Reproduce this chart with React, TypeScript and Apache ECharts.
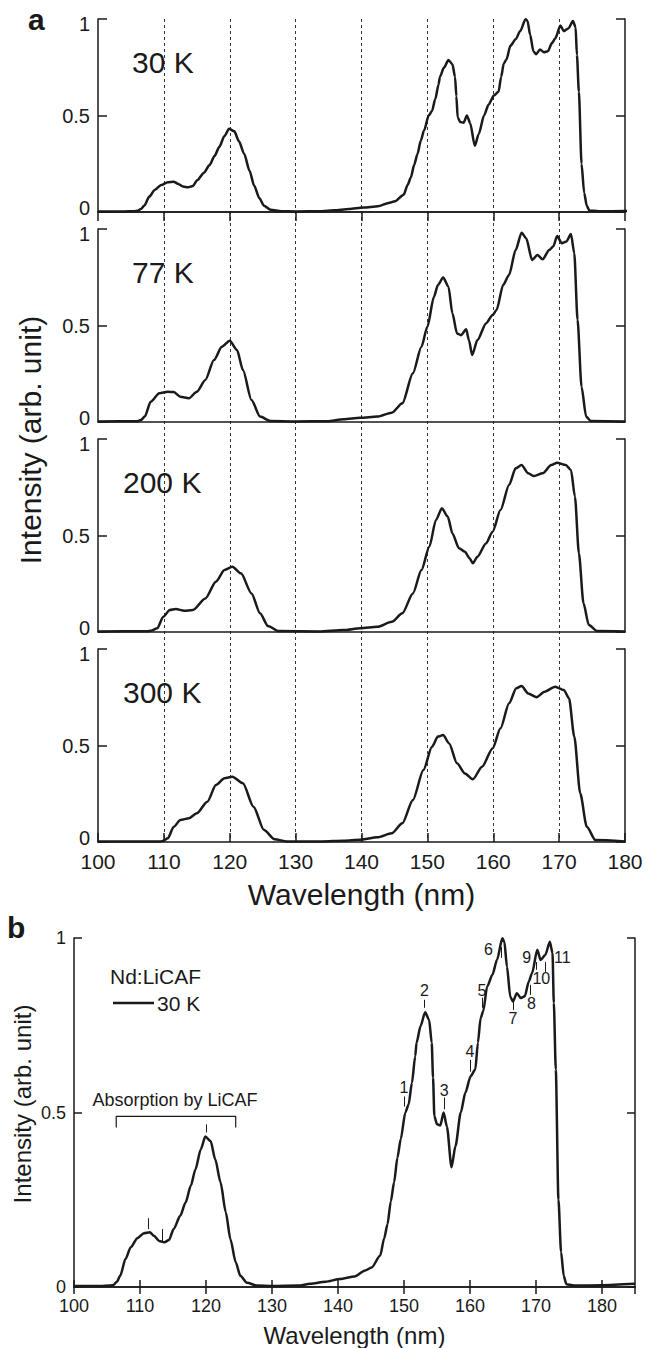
import React, { useEffect, useRef } from "react";
import * as echarts from "echarts";

// ---------- data ----------
const wl30 = [100, 104, 105.5, 106.0, 106.5, 107.0, 107.8, 108.6, 109.6, 110.6, 111.5, 112.1, 112.9, 113.7, 114.4, 115.1, 116.1, 116.9, 117.7, 118.4, 119.2, 119.9, 120.7, 121.4, 122.2, 123.0, 123.7, 124.5, 125.2, 126.2, 127.8, 130, 134, 135.8, 138.1, 140.3, 142.5, 144.1, 145.1, 146.4, 147.0, 147.5, 148.0, 148.5, 149.0, 149.5, 150.2, 150.7, 151.2, 151.7, 151.9, 152.5, 153.2, 153.8, 154.2, 154.4, 154.6, 155.0, 155.5, 156.0, 156.5, 157.2, 157.8, 158.6, 159.3, 160.1, 160.8, 161.2, 161.6, 162.0, 162.6, 163.4, 164.1, 164.9, 165.2, 165.6, 166.1, 166.5, 167.1, 167.7, 168.3, 168.9, 169.4, 170.2, 170.7, 171.4, 172.1, 172.5, 172.7, 173.0, 173.4, 173.8, 174.2, 174.6, 176, 180, 185];
const int30 = [0.003, 0.003, 0.004, 0.006, 0.015, 0.032, 0.08, 0.114, 0.14, 0.154, 0.157, 0.147, 0.132, 0.128, 0.135, 0.166, 0.204, 0.242, 0.29, 0.337, 0.394, 0.431, 0.418, 0.366, 0.3, 0.214, 0.137, 0.071, 0.032, 0.012, 0.004, 0.003, 0.004, 0.009, 0.015, 0.023, 0.03, 0.047, 0.056, 0.09, 0.14, 0.18, 0.245, 0.3, 0.37, 0.423, 0.5, 0.523, 0.585, 0.661, 0.7, 0.747, 0.787, 0.766, 0.7, 0.6, 0.49, 0.466, 0.463, 0.5, 0.46, 0.343, 0.404, 0.5, 0.557, 0.604, 0.623, 0.7, 0.77, 0.79, 0.861, 0.895, 0.938, 0.999, 0.99, 0.918, 0.832, 0.818, 0.842, 0.828, 0.833, 0.875, 0.899, 0.966, 0.937, 0.951, 0.989, 0.957, 0.814, 0.623, 0.25, 0.1, 0.032, 0.008, 0.004, 0.005, 0.009];

const wl77 = [100, 106.0, 106.5, 107.1, 108.0, 109.3, 110.6, 111.5, 112.5, 113.8, 115.0, 116.3, 117.6, 118.8, 120.0, 121.1, 122.0, 123.3, 124.6, 126.2, 130, 134.8, 137.3, 139.8, 142.4, 144.6, 146.2, 147.8, 149.1, 150.0, 151.0, 151.6, 152.4, 153.2, 153.8, 154.5, 155.1, 155.9, 156.3, 156.8, 157.6, 158.9, 159.9, 160.5, 161.5, 162.4, 163.4, 164.3, 165.0, 165.9, 166.7, 167.5, 168.5, 169.1, 169.7, 170.4, 171.1, 171.8, 172.3, 172.8, 173.4, 174.1, 174.8, 180];
const int77 = [0.003, 0.004, 0.01, 0.028, 0.105, 0.149, 0.157, 0.155, 0.131, 0.123, 0.157, 0.218, 0.321, 0.39, 0.421, 0.373, 0.269, 0.114, 0.028, 0.005, 0.003, 0.004, 0.014, 0.022, 0.028, 0.048, 0.097, 0.252, 0.39, 0.494, 0.649, 0.71, 0.749, 0.701, 0.563, 0.459, 0.45, 0.48, 0.425, 0.347, 0.425, 0.511, 0.554, 0.58, 0.71, 0.762, 0.891, 0.981, 0.952, 0.839, 0.865, 0.843, 0.891, 0.909, 0.964, 0.926, 0.935, 0.974, 0.874, 0.528, 0.183, 0.028, 0.005, 0.003];

const wl200 = [100, 107.5, 108.0, 109.0, 109.9, 110.9, 111.8, 113.1, 114.4, 116.3, 117.9, 119.2, 120.4, 121.7, 123.3, 124.6, 125.8, 127.4, 133.5, 137.3, 139.8, 142.4, 144.6, 146.2, 147.8, 149.1, 150.3, 151.3, 152.2, 153.1, 153.8, 154.8, 155.7, 156.4, 156.9, 157.6, 158.9, 159.9, 161.1, 162.4, 163.4, 164.3, 165.3, 166.2, 167.5, 168.8, 169.7, 171.0, 171.8, 172.4, 173.0, 173.7, 174.5, 175.8, 180];
const int200 = [0.003, 0.004, 0.006, 0.019, 0.079, 0.114, 0.119, 0.11, 0.114, 0.174, 0.261, 0.321, 0.338, 0.304, 0.2, 0.097, 0.031, 0.005, 0.003, 0.01, 0.019, 0.027, 0.053, 0.097, 0.2, 0.321, 0.442, 0.58, 0.641, 0.597, 0.511, 0.434, 0.416, 0.382, 0.356, 0.39, 0.459, 0.52, 0.632, 0.762, 0.848, 0.865, 0.822, 0.808, 0.822, 0.865, 0.877, 0.865, 0.839, 0.701, 0.408, 0.149, 0.036, 0.005, 0.003];

const wl300 = [100, 109.5, 109.9, 110.6, 111.5, 112.5, 113.8, 115.0, 116.6, 117.9, 119.2, 120.4, 122.0, 123.6, 125.2, 126.8, 128.7, 134, 137.3, 139.8, 142.4, 144.6, 146.2, 147.8, 149.4, 150.7, 151.6, 152.4, 153.3, 154.5, 155.7, 156.9, 158.3, 159.9, 161.1, 162.4, 163.5, 164.3, 165.3, 166.6, 167.8, 169.4, 170.7, 171.5, 172.3, 173.2, 174.2, 175.5, 180];
const int300 = [0.003, 0.003, 0.006, 0.019, 0.079, 0.114, 0.123, 0.149, 0.209, 0.295, 0.33, 0.338, 0.304, 0.183, 0.062, 0.014, 0.003, 0.003, 0.007, 0.012, 0.024, 0.045, 0.097, 0.218, 0.373, 0.494, 0.546, 0.554, 0.511, 0.408, 0.355, 0.325, 0.39, 0.485, 0.589, 0.719, 0.797, 0.808, 0.77, 0.75, 0.779, 0.805, 0.788, 0.745, 0.546, 0.252, 0.079, 0.01, 0.003];

const tempLabels = ["30 K", "77 K", "200 K", "300 K"];

// Panel b annotations
const peakNames = ["1", "2", "3", "4", "5", "6", "7", "8", "9", "10", "11"];
const peakTickX = [150.0, 153.1, 156.1, 160.0, 161.8, 164.7, 166.5, 169.2, 170.1, 171.4, null];
const peakTickY0 = [0.517, 0.8, 0.509, 0.617, 0.8, 0.943, 0.794, 0.837, 0.909, 0.903, null];
const peakTickY1 = [0.546, 0.823, 0.543, 0.651, 0.829, 0.974, 0.817, 0.866, 0.931, 0.931, null];
const peakLabelX = [150.0, 153.1, 156.1, 160.0, 161.8, 162.8, 166.5, 169.3, 168.6, 170.8, 174.0];
const peakLabelY = [0.571, 0.849, 0.563, 0.674, 0.849, 0.966, 0.769, 0.811, 0.943, 0.883, 0.943];

const absTickX = [111.3, 113.4, 120.0];
const absTickY0 = [0.166, 0.131, 0.443];
const absTickY1 = [0.197, 0.166, 0.466];
const bracketX = [106.4, 106.4, 124.5, 124.5];
const bracketY = [0.457, 0.489, 0.489, 0.457];

const zip = (a: number[], b: number[]) => a.map((v, i) => [v, b[i]]);

const FONT = "'Liberation Sans', Arial, Helvetica, sans-serif";
const INK = "#1a1a1a";

export default function App() {
  const ref = useRef<HTMLDivElement>(null);
  useEffect(() => {
    document.body.style.margin = "0";
    const chart = echarts.init(ref.current!, null, { renderer: "svg" });

    const panelTops = [19, 229, 439, 649];
    const pH = 193;
    const L = 98;
    const W = 527;

    const grids: any[] = panelTops.map((t) => ({ left: L, top: t, width: W, height: pH }));
    grids.push({ left: L, top: 19, width: W, height: 842 - 19 }); // overlay for dashed lines
    grids.push({ left: 74, top: 938, width: 561, height: 350 }); // panel b

    const axLine = { show: true, lineStyle: { color: INK, width: 1.5 } };
    const tickIn = (len: number) => ({ show: true, inside: true, length: len, lineStyle: { color: INK, width: 1.5 } });

    const xAxes: any[] = [];
    for (let i = 0; i < 4; i++) {
      xAxes.push({
        type: "value", gridIndex: i, min: 100, max: 180, interval: 10, position: "bottom",
        axisLine: axLine,
        axisTick: i === 3 ? tickIn(9) : { show: false },
        axisLabel: i === 3 ? { show: true, fontSize: 21, color: INK, fontFamily: FONT, margin: 9 } : { show: false },
        splitLine: { show: false },
        name: i === 3 ? "Wavelength (nm)" : "",
        nameLocation: "middle", nameGap: 37,
        nameTextStyle: { fontSize: 30, color: INK, fontFamily: FONT },
      });
    }
    xAxes.push({
      type: "value", gridIndex: 0, min: 100, max: 180, interval: 10, position: "top",
      axisLine: axLine, axisTick: tickIn(9), axisLabel: { show: false }, splitLine: { show: false },
    });
    xAxes.push({
      type: "value", gridIndex: 4, min: 100, max: 180, interval: 10,
      axisLine: { show: false }, axisTick: { show: false }, axisLabel: { show: false },
      splitLine: { show: true, showMinLine: false, showMaxLine: false, lineStyle: { color: "#333", width: 1, type: [3, 3] } },
    });
    xAxes.push({
      type: "value", gridIndex: 5, min: 100, max: 185, interval: 10, position: "bottom",
      axisLine: axLine, axisTick: tickIn(7),
      axisLabel: { show: true, fontSize: 18, color: INK, fontFamily: FONT, margin: 10, showMaxLabel: false,
        formatter: (v: number) => (v === 185 ? "" : String(v)) },
      splitLine: { show: false },
      name: "Wavelength (nm)", nameLocation: "middle", nameGap: 36,
      nameTextStyle: { fontSize: 24, color: INK, fontFamily: FONT },
    });
    xAxes.push({
      type: "value", gridIndex: 5, min: 100, max: 185, interval: 10, position: "top",
      axisLine: axLine, axisTick: tickIn(7), axisLabel: { show: false }, splitLine: { show: false },
    });

    const yAxes: any[] = [];
    for (let i = 0; i < 4; i++) {
      yAxes.push({
        type: "value", gridIndex: i, min: 0, max: 1, interval: 0.5, position: "left",
        axisLine: axLine, axisTick: tickIn(9),
        axisLabel: {
          show: true, fontSize: 20, color: INK, fontFamily: FONT, margin: 8,
          formatter: (v: number) => (v === 0 ? `{lo|0}` : v === 1 ? `{hi|1}` : `{mid|${v}}`),
          rich: {
            lo: { fontSize: 20, color: INK, fontFamily: FONT, padding: [0, 0, 9, 0] },
            hi: { fontSize: 20, color: INK, fontFamily: FONT, padding: [9, 0, 0, 0] },
            mid: { fontSize: 20, color: INK, fontFamily: FONT },
          },
        },
        splitLine: { show: false },
      });
    }
    for (let i = 0; i < 4; i++) {
      yAxes.push({
        type: "value", gridIndex: i, min: 0, max: 1, interval: 0.5, position: "right",
        axisLine: axLine, axisTick: tickIn(9), axisLabel: { show: false }, splitLine: { show: false },
      });
    }
    yAxes.push({ type: "value", gridIndex: 4, min: 0, max: 1, show: false });
    yAxes.push({
      type: "value", gridIndex: 5, min: 0, max: 1, interval: 0.5, position: "left",
      axisLine: axLine, axisTick: tickIn(8),
      axisLabel: { show: true, fontSize: 18, color: INK, fontFamily: FONT, margin: 8 },
      splitLine: { show: false },
    });
    yAxes.push({
      type: "value", gridIndex: 5, min: 0, max: 1, interval: 0.5, position: "right",
      axisLine: axLine, axisTick: tickIn(8), axisLabel: { show: false }, splitLine: { show: false },
    });

    const specs = [zip(wl30, int30), zip(wl77, int77), zip(wl200, int200), zip(wl300, int300)];
    const lineStyle = { color: INK, width: 2.5 };
    const series: any[] = specs.map((d, i) => ({
      type: "line", xAxisIndex: i, yAxisIndex: i, data: d, showSymbol: false, symbol: "none",
      smooth: 0.25, smoothMonotone: "x", lineStyle, silent: true, z: 3,
    }));

    const peakTickLines = peakTickX
      .map((x, i) => (x == null ? null : [{ coord: [x, peakTickY0[i]] }, { coord: [x, peakTickY1[i]] }]))
      .filter((v) => v);
    const absTickLines = absTickX.map((x, i) => [{ coord: [x, absTickY0[i]] }, { coord: [x, absTickY1[i]] }]);

    series.push({
      type: "line", xAxisIndex: 6, yAxisIndex: 9, data: zip(wl30, int30), symbol: "none",
      smooth: 0.25, smoothMonotone: "x", lineStyle, silent: true, z: 3,
      markLine: {
        silent: true, symbol: ["none", "none"], animation: false,
        lineStyle: { color: INK, width: 1, type: "solid" }, label: { show: false },
        data: [...peakTickLines, ...absTickLines],
      },
    });
    series.push({
      type: "line", xAxisIndex: 6, yAxisIndex: 9, data: zip(bracketX, bracketY), symbol: "none",
      lineStyle: { color: INK, width: 1.2 }, silent: true,
    });
    series.push({
      type: "scatter", xAxisIndex: 6, yAxisIndex: 9, symbolSize: 1, silent: true,
      itemStyle: { color: "rgba(0,0,0,0)", opacity: 1 },
      data: peakNames.map((n, i) => ({ name: n, value: [peakLabelX[i], peakLabelY[i]] })),
      label: { show: true, position: "inside", formatter: "{b}", fontSize: 16, color: INK, opacity: 1, fontFamily: FONT },
    });

    const graphic: any[] = [
      { type: "text", left: 28, top: 4, style: { text: "a", font: `bold 30px ${FONT}`, fill: INK } },
      { type: "text", left: 7, top: 912, style: { text: "b", font: `bold 30px ${FONT}`, fill: INK } },
      {
        type: "text", x: 30, y: 440, rotation: Math.PI / 2,
        style: { text: "Intensity (arb. unit)", font: `30px ${FONT}`, fill: INK, align: "center", verticalAlign: "middle" },
      },
      {
        type: "text", x: 22, y: 1104, rotation: Math.PI / 2,
        style: { text: "Intensity (arb. unit)", font: `24px ${FONT}`, fill: INK, align: "center", verticalAlign: "middle" },
      },
      { type: "text", x: 110, y: 976, style: { text: "Nd:LiCAF", font: `21px ${FONT}`, fill: INK, verticalAlign: "middle" } },
      { type: "line", shape: { x1: 113, y1: 1003, x2: 154, y2: 1003 }, style: { stroke: INK, lineWidth: 2.5 } },
      { type: "text", x: 157, y: 1003, style: { text: "30 K", font: `21px ${FONT}`, fill: INK, verticalAlign: "middle" } },
      { type: "text", x: 175, y: 1100, style: { text: "Absorption by LiCAF", font: `18px ${FONT}`, fill: INK, align: "center", verticalAlign: "middle" } },
    ];
    const tempX = [132, 132, 123, 123];
    tempLabels.forEach((t, i) => {
      graphic.push({
        type: "text", x: tempX[i], y: panelTops[i] + 43,
        style: { text: t, font: `30px ${FONT}`, fill: INK, verticalAlign: "middle" },
      });
    });

    chart.setOption({
      animation: false,
      backgroundColor: "#ffffff",
      textStyle: { fontFamily: FONT },
      grid: grids,
      xAxis: xAxes,
      yAxis: yAxes,
      series,
      graphic,
    });
    return () => chart.dispose();
  }, []);
  return <div ref={ref} style={{ width: 658, height: 1348 }} />;
}
